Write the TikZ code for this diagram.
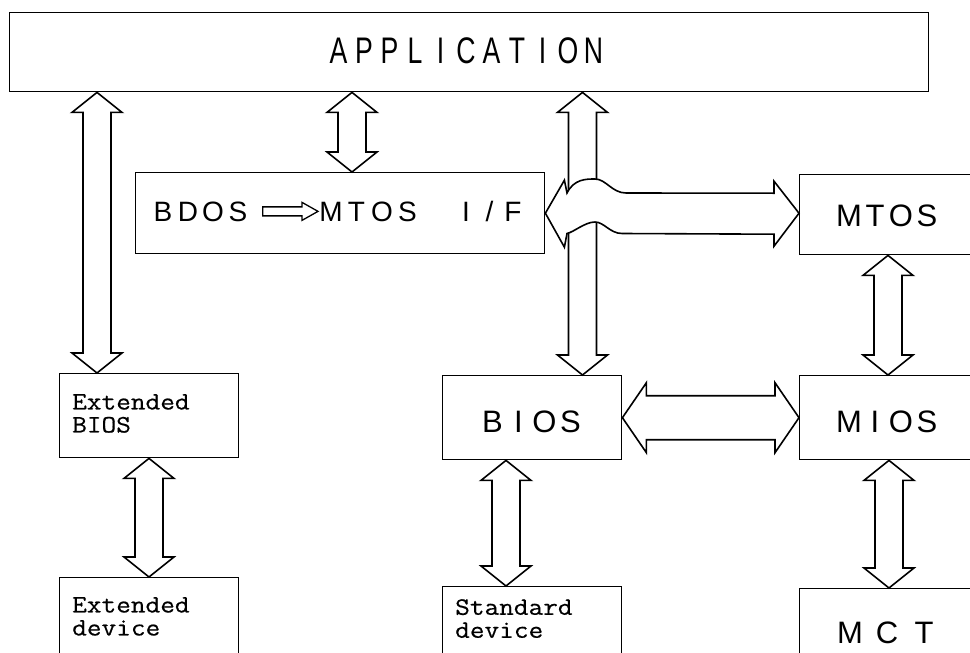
\documentclass[tikz,border=0pt]{standalone}
\usepackage{fontspec}
\setmainfont{Liberation Sans}
\newfontfamily\typewriter{Latin Modern Mono}[FakeStretch=1.14,FakeBold=0.5]
\usetikzlibrary{calc}

% fixed-pitch lettering: every character sits in a cell of width #2,
% optionally squeezed horizontally by #1
\makeatletter
\newcommand\pitch[3][1]{\@tfor\pch:=#3\do{\makebox[#2][c]{\scalebox{#1}[1]{\pch}}}}
\makeatother

% hollow double-headed vertical bus at abscissa #1, from anchor #2 down to anchor #3
\newcommand\vbus[3]{%
  \draw[bus] (#1,0 |- #2) -- ++(25,20) -- ++(-11,0)
    -- ($(#1,0 |- #3)+(14,-20)$) -- ++(11,0) -- (#1,0 |- #3)
    -- ++(-25,-20) -- ++(11,0) -- ($(#1,0 |- #2)+(-14,20)$) -- ++(-11,0) -- cycle;}

\begin{document}
\begin{tikzpicture}[x=1pt,y=-1pt,
  box/.style={draw,line width=1.4pt,rectangle,inner sep=0pt,anchor=north west},
  bus/.style={draw,fill=white,line width=1.6pt,line join=miter},
  biglbl/.style={font=\fontsize{31}{31}\selectfont,inner sep=0pt,anchor=base},
  devtext/.style={font=\typewriter\fontsize{25}{23}\selectfont,align=left,inner sep=0pt,anchor=north west}]

\useasboundingbox (0,0) rectangle (970,653);
\fill[white] (0,0) rectangle (970,653);
\clip (0,0) rectangle (970,653);

% blocks
\node[box,minimum width=919pt,minimum height=79pt] (app) at (9,12) {};
\node[box,minimum width=409pt,minimum height=81pt] (bdos) at (135,172) {};
\node[box,minimum width=220pt,minimum height=80pt] (mtos) at (799,174) {};
\node[box,minimum width=179pt,minimum height=84pt] (ebios) at (59,373) {};
\node[box,minimum width=179pt,minimum height=84pt] (bios) at (442,375) {};
\node[box,minimum width=220pt,minimum height=84pt] (mios) at (799,375) {};
\node[box,minimum width=179pt,minimum height=120pt] (edev) at (59,577) {};
\node[box,minimum width=179pt,minimum height=120pt] (sdev) at (442,586) {};
\node[box,minimum width=220pt,minimum height=120pt] (mct) at (799,588) {};

% block captions
\node[biglbl,font=\fontsize{37}{37}\selectfont] (apptxt) at (466,63) {\pitch[.72]{25.5pt}{APPLICATION}};
\node[biglbl,font=\fontsize{28}{28}\selectfont] (bdostxt) at (200.5,221) {\pitch{25pt}{BDOS}};
\node[biglbl,font=\fontsize{28}{28}\selectfont,anchor=base west] (iftxt) at (318,221)
  {\pitch{25.5pt}{MTOS}\hspace{34pt}\pitch{23.5pt}{I/F}};
\node[biglbl] (mtostxt) at (888,226) {\pitch{26pt}{MTOS}};
\node[biglbl] (biostxt) at (531.5,432) {\pitch{26pt}{BIOS}};
\node[biglbl] (miostxt) at (888,432) {\pitch{26pt}{MIOS}};
\node[biglbl] (mcttxt) at (887,643) {\pitch{37pt}{MCT}};
\node[devtext] (ebiostxt) at (72,394) {Extended\\BIOS};
\node[devtext] (edevtxt) at (72,597) {Extended\\device};
\node[devtext] (sdevtxt) at (455,599) {Standard\\device};

% small hollow arrow between BDOS and MTOS I/F
\draw[bus,line width=1.3pt] ($(bdostxt.east)+(12,-4.5)$) -- ($(iftxt.west |- bdostxt.east)+(-16,-4.5)$)
  -- ++(0,-4.5) -- (iftxt.west |- bdostxt.east) -- ++(-16,9) -- ++(0,-4.5)
  -- ($(bdostxt.east)+(12,4.5)$) -- cycle;

% vertical buses
\vbus{97}{app.south}{ebios.north}
\vbus{352}{app.south}{bdos.north}
\vbus{582.5}{app.south}{bios.north}
\vbus{149}{ebios.south}{edev.north}
\vbus{506}{bios.south}{sdev.north}
\vbus{888}{mtos.south}{mios.north}
\vbus{889}{mios.south}{mct.north}

% BDOS <-> MTOS bus, bridging over the APPLICATION <-> BIOS bus
\draw[bus] (bdos.east) -- ++(19,-33) -- (567,193)
  .. controls (574,179) and (586,179) .. (595,179)
  .. controls (606,179) and (612,193) .. (626,193)
  -- ($(mtos.west |- bdos.east)+(-25,-20)$) -- ++(0,-12) -- (mtos.west |- bdos.east)
  -- ++(-25,33) -- ++(0,-12)
  -- (622,233.5) .. controls (610,233.5) and (604,222) .. (595,222)
  .. controls (585,222) and (574,232) .. (567,233.5)
  -- ($(bdos.east)+(19,34)$) -- cycle;

% BIOS <-> MIOS bus
\draw[bus] (bios.east) -- ++(24,-35) -- ++(0,13)
  -- ($(mios.west |- bios.east)+(-24,-22)$) -- ++(0,-13) -- (mios.west |- bios.east)
  -- ++(-24,35) -- ++(0,-13) -- ($(bios.east)+(24,22)$) -- ++(0,13) -- cycle;

\end{tikzpicture}
\end{document}
